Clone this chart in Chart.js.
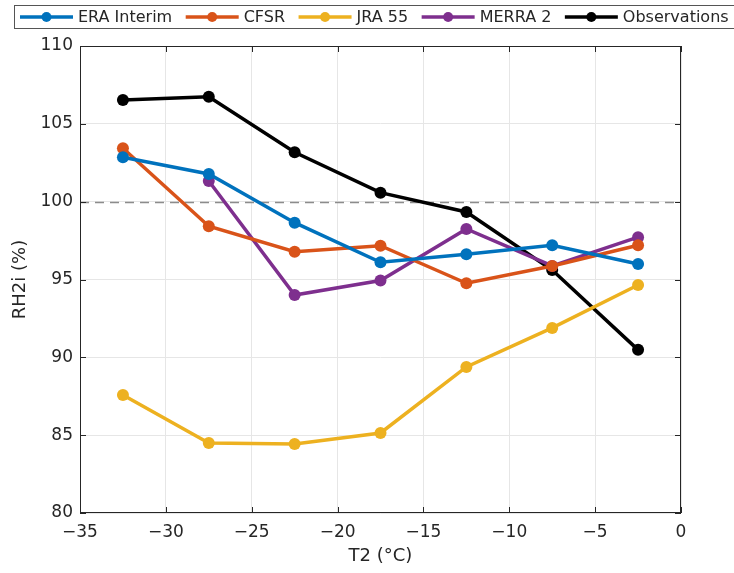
<!DOCTYPE html>
<html>
<head>
<meta charset="utf-8">
<script src="https://cdn.jsdelivr.net/npm/chart.js@4/dist/chart.umd.min.js"></script>
<style>
  html, body { margin: 0; padding: 0; background: #fff; }
  canvas { display: block; }
</style>
</head>
<body>
<canvas id="rhChart" width="734" height="573"></canvas>
<script>
/* RH2i vs T2 for reanalyses and observations */
const tempBins = [-32.5, -27.5, -22.5, -17.5, -12.5, -7.5, -2.5];
const eraInterim = [102.85, 101.78, 98.65, 96.11, 96.62, 97.2, 96.0];
const cfsr = [103.43, 98.42, 96.79, 97.17, 94.76, 95.87, 97.2];
const jra55 = [87.58, 84.5, 84.44, 85.14, 89.38, 91.89, 94.65];
const merra2 = [null, 101.33, 94.0, 94.93, 98.25, 95.87, 97.72];
const observations = [106.53, 106.74, 103.17, 100.58, 99.34, 95.61, 90.48];
const seriesNames = ["ERA Interim", "CFSR", "JRA 55", "MERRA 2", "Observations"];
const seriesColors = ["#0072BD", "#D95319", "#EDB120", "#7E2F8E", "#000000"];
const xTicks = [-35, -30, -25, -20, -15, -10, -5, 0];
const yTicks = [80, 85, 90, 95, 100, 105, 110];
const refLine = 100;

const FONT = "'DejaVu Sans', sans-serif";
const AXIS = "#262626";

function toPoints(vals) {
  return tempBins.map((x, i) => ({ x: x, y: vals[i] }));
}

const allSeries = [eraInterim, cfsr, jra55, merra2, observations];
const datasets = allSeries.map((vals, i) => ({
  label: seriesNames[i],
  data: toPoints(vals),
  borderColor: seriesColors[i],
  backgroundColor: seriesColors[i],
  borderWidth: 3.5,
  pointRadius: 6,
  pointHoverRadius: 6,
  pointBorderWidth: 0,
  tension: 0,
  spanGaps: false
}));

const minusFmt = v => String(v).replace("-", "\u2212");

// dashed 100% line, axes box with inward ticks, legend box
const decorPlugin = {
  id: "decor",
  beforeDatasetsDraw(chart) {
    const { ctx, chartArea: a, scales: { y } } = chart;
    const yy = Math.round(y.getPixelForValue(refLine)) + 0.5;
    ctx.save();
    ctx.strokeStyle = "#8c8c8c";
    ctx.lineWidth = 1.5;
    ctx.setLineDash([9, 6]);
    ctx.beginPath();
    ctx.moveTo(a.left, yy);
    ctx.lineTo(a.right, yy);
    ctx.stroke();
    ctx.restore();
  },
  afterDraw(chart) {
    const { ctx, chartArea: a, scales: { x, y } } = chart;
    ctx.save();
    ctx.strokeStyle = AXIS;
    ctx.lineWidth = 1;
    ctx.strokeRect(Math.round(a.left) + 0.5, Math.round(a.top) + 0.5,
      Math.round(a.right - a.left) - 1, Math.round(a.bottom - a.top) - 1);
    ctx.beginPath();
    const tl = 6;
    xTicks.forEach(v => {
      const px = Math.round(x.getPixelForValue(v)) + 0.5;
      ctx.moveTo(px, a.bottom); ctx.lineTo(px, a.bottom - tl);
      ctx.moveTo(px, a.top); ctx.lineTo(px, a.top + tl);
    });
    yTicks.forEach(v => {
      const py = Math.round(y.getPixelForValue(v)) + 0.5;
      ctx.moveTo(a.left, py); ctx.lineTo(a.left + tl, py);
      ctx.moveTo(a.right, py); ctx.lineTo(a.right - tl, py);
    });
    ctx.stroke();

    // legend
    ctx.font = "16px " + FONT;
    ctx.textBaseline = "middle";
    const cy = 17;
    let cx = 20;
    chart.data.datasets.forEach(ds => {
      ctx.strokeStyle = ds.borderColor;
      ctx.fillStyle = ds.borderColor;
      ctx.lineWidth = 3.5;
      ctx.beginPath();
      ctx.moveTo(cx, cy); ctx.lineTo(cx + 53, cy);
      ctx.stroke();
      ctx.beginPath();
      ctx.arc(cx + 26.5, cy, 5, 0, Math.PI * 2);
      ctx.fill();
      ctx.fillStyle = AXIS;
      ctx.fillText(ds.label, cx + 58, cy + 1);
      cx += 58 + ctx.measureText(ds.label).width + 13.5;
    });
    ctx.strokeStyle = "#555";
    ctx.lineWidth = 1;
    ctx.strokeRect(14.5, 5.5, 740, 23);
    ctx.restore();
  }
};

new Chart(document.getElementById("rhChart"), {
  type: "line",
  data: { datasets: datasets },
  options: {
    responsive: false,
    animation: false,
    layout: { padding: { top: 46, right: 53, left: 10, bottom: 6 } },
    plugins: {
      legend: { display: false },
      tooltip: { enabled: false }
    },
    scales: {
      x: {
        type: "linear",
        min: -35,
        max: 0,
        afterBuildTicks: s => { s.ticks = xTicks.map(v => ({ value: v })); },
        afterFit: s => { s.height = 54; },
        grid: { color: "#e6e6e6", drawTicks: false },
        border: { display: false },
        ticks: {
          color: AXIS,
          font: { family: FONT, size: 17 },
          padding: 9,
          maxRotation: 0,
          callback: v => minusFmt(v)
        },
        title: {
          display: true,
          text: "T2 (°C)",
          color: AXIS,
          font: { family: FONT, size: 18 },
          padding: { top: 0, bottom: 0 }
        }
      },
      y: {
        min: 80,
        max: 110,
        afterBuildTicks: s => { s.ticks = yTicks.map(v => ({ value: v })); },
        afterFit: s => { s.width = 70; },
        grid: { color: "#e6e6e6", drawTicks: false },
        border: { display: false },
        ticks: {
          color: AXIS,
          font: { family: FONT, size: 17 },
          padding: 7,
          callback: v => minusFmt(v)
        },
        title: {
          display: true,
          text: "RH2i (%)",
          color: AXIS,
          font: { family: FONT, size: 18 },
          padding: { top: 0, bottom: 0 }
        }
      }
    }
  },
  plugins: [decorPlugin]
});
</script>
</body>
</html>
